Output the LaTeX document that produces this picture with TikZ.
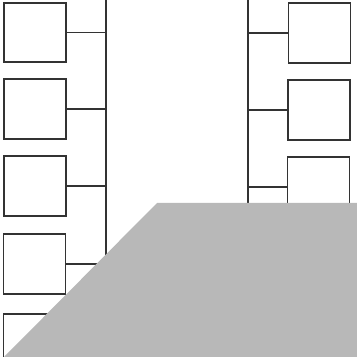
\documentclass[tikz,border=0pt]{standalone}
\usepackage{tikz}

\tikzset{
	boite/.style={draw=black!80, line width=1pt, fill=white, minimum width=1.24cm, minimum height=1.19cm, inner sep=0pt},
	trait/.style={draw=black!80, line width=1pt},
	cache/.style={fill=black!28, draw=none}
}

\begin{document}
\begin{tikzpicture}[x=0.02cm, y=-0.02cm]
				\useasboundingbox (0,0) rectangle (357,357);
				\clip (0,0) rectangle (357,357);
				% colonnes verticales
				\coordinate (gHaut) at (106,0);
				\coordinate (gBas) at (106,357);
				\coordinate (dHaut) at (248,0);
				\coordinate (dBas) at (248,357);
				\draw[trait] (gHaut)--(gBas);
				\draw[trait] (dHaut)--(dBas);
				% boites de gauche
				\node[boite] (g1) at (35,32.5) {};
				\node[boite] (g2) at (35,109) {};
				\node[boite] (g3) at (35,186) {};
				\node[boite] (g4) at (34.5,264) {};
				\node[boite] (g5) at (34.5,344) {};
				% boites de droite
				\node[boite] (d1) at (319.5,33) {};
				\node[boite] (d2) at (319,110) {};
				\node[boite] (d3) at (318.5,187) {};
				% liaisons
				\draw[trait] (g1.east)--(g1.east -| gHaut);
				\draw[trait] (g2.east)--(g2.east -| gHaut);
				\draw[trait] (g3.east)--(g3.east -| gHaut);
				\draw[trait] (g4.east)--(g4.east -| gHaut);
				\draw[trait] (d1.west)--(d1.west -| dHaut);
				\draw[trait] (d2.west)--(d2.west -| dHaut);
				\draw[trait] (d3.west)--(d3.west -| dHaut);
				% zone grise
				\fill[cache] (157,203)--(357,203)--(357,357)--(4,357)--cycle;
		\end{tikzpicture}
\end{document}
